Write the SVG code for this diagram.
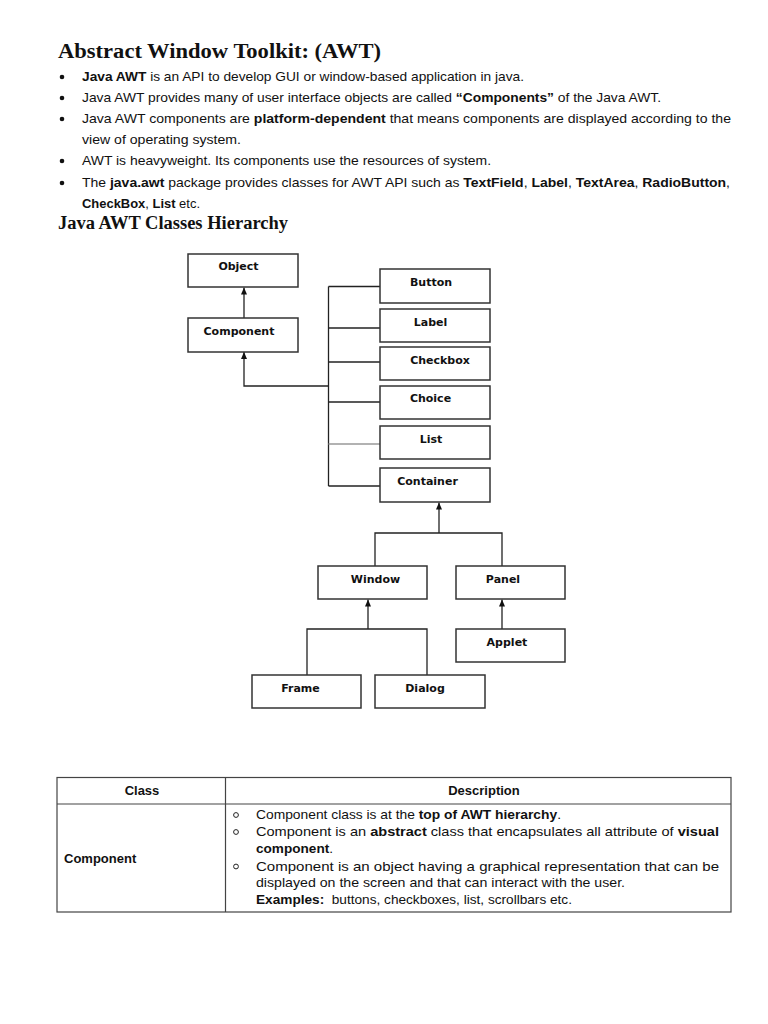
<svg xmlns="http://www.w3.org/2000/svg" width="768" height="1024" viewBox="0 0 768 1024">
<defs>
<style>
.t{font-family:"Liberation Sans",Arial,sans-serif;font-size:13px;fill:#111;}
.b{font-weight:bold;}
.h{font-family:"Liberation Serif","Times New Roman",serif;font-weight:bold;fill:#111;}
.box rect{fill:#fff;stroke:#333;stroke-width:1.5;}
.box text{font-family:"DejaVu Sans",Verdana,sans-serif;font-weight:bold;font-size:11px;text-anchor:middle;fill:#111;}
.conn{stroke:#222;stroke-width:1.3;fill:none;}
.gray{stroke:#999;}
.tbl{stroke:#444;stroke-width:1.2;fill:none;}
.bul{fill:#111;}
.obul{fill:none;stroke:#222;stroke-width:1;}
</style>
<marker id="arr" viewBox="0 0 7 6" refX="7" refY="3" markerWidth="7" markerHeight="6" markerUnits="userSpaceOnUse" orient="auto">
<path d="M0,0 L7,3 L0,6 z" fill="#111"/>
</marker>
</defs>
<rect width="768" height="1024" fill="#fff"/>

<text class="h" x="58" y="58" font-size="20.5" textLength="323" lengthAdjust="spacingAndGlyphs">Abstract Window Toolkit: (AWT)</text>

<g id="bullets">
<circle class="bul" cx="62" cy="77" r="2.3"/>
<circle class="bul" cx="62" cy="98" r="2.3"/>
<circle class="bul" cx="62" cy="119" r="2.3"/>
<circle class="bul" cx="62" cy="161" r="2.3"/>
<circle class="bul" cx="62" cy="183" r="2.3"/>
<text class="t" x="82" y="81" textLength="442" lengthAdjust="spacingAndGlyphs"><tspan class="b">Java AWT</tspan> is an API to develop GUI or window-based application in java.</text>
<text class="t" x="82" y="102" textLength="579" lengthAdjust="spacingAndGlyphs">Java AWT provides many of user interface objects are called <tspan class="b">“Components”</tspan> of the Java AWT.</text>
<text class="t" x="82" y="123" textLength="649" lengthAdjust="spacingAndGlyphs">Java AWT components are <tspan class="b">platform-dependent</tspan> that means components are displayed according to the</text>
<text class="t" x="82" y="144" textLength="159" lengthAdjust="spacingAndGlyphs">view of operating system.</text>
<text class="t" x="82" y="165" textLength="409" lengthAdjust="spacingAndGlyphs">AWT is heavyweight. Its components use the resources of system.</text>
<text class="t" x="82" y="187" textLength="648" lengthAdjust="spacingAndGlyphs">The <tspan class="b">java.awt</tspan> package provides classes for AWT API such as <tspan class="b">TextField</tspan>, <tspan class="b">Label</tspan>, <tspan class="b">TextArea</tspan>, <tspan class="b">RadioButton</tspan>,</text>
<text class="t" x="82" y="208" textLength="118" lengthAdjust="spacingAndGlyphs"><tspan class="b">CheckBox</tspan>, <tspan class="b">List</tspan> etc.</text>
</g>

<text class="h" x="58" y="229" font-size="18" textLength="230" lengthAdjust="spacingAndGlyphs">Java AWT Classes Hierarchy</text>

<g id="connectors">
<line class="conn" x1="244" y1="318" x2="244" y2="287.5" marker-end="url(#arr)"/>
<polyline class="conn" points="328.5,386 244,386 244,352" marker-end="url(#arr)"/>
<line class="conn" x1="328.5" y1="286.5" x2="328.5" y2="486"/>
<line class="conn" x1="328.5" y1="286.5" x2="380" y2="286.5"/>
<line class="conn" x1="328.5" y1="328" x2="380" y2="328"/>
<line class="conn" x1="328.5" y1="362" x2="380" y2="362"/>
<line class="conn" x1="328.5" y1="402" x2="380" y2="402"/>
<line class="conn gray" x1="328.5" y1="444" x2="380" y2="444"/>
<line class="conn" x1="328.5" y1="486" x2="380" y2="486"/>
<line class="conn" x1="439" y1="533" x2="439" y2="502.5" marker-end="url(#arr)"/>
<polyline class="conn" points="375,566 375,533 502,533 502,566"/>
<line class="conn" x1="368" y1="629" x2="368" y2="599.5" marker-end="url(#arr)"/>
<polyline class="conn" points="307,675 307,629 427,629 427,675"/>
<line class="conn" x1="502" y1="629" x2="502" y2="599.5" marker-end="url(#arr)"/>
</g>

<g id="n-object" class="box"><rect x="188" y="254" width="110" height="33"/><text x="238.5" y="270">Object</text></g>
<g id="n-component" class="box"><rect x="188" y="318" width="110" height="34"/><text x="239" y="335">Component</text></g>
<g id="n-button" class="box"><rect x="380" y="269" width="110" height="34"/><text x="431" y="286">Button</text></g>
<g id="n-label" class="box"><rect x="380" y="309" width="110" height="33"/><text x="430.5" y="326">Label</text></g>
<g id="n-checkbox" class="box"><rect x="380" y="347" width="110" height="33"/><text x="440" y="364">Checkbox</text></g>
<g id="n-choice" class="box"><rect x="380" y="386" width="110" height="33"/><text x="430.5" y="402">Choice</text></g>
<g id="n-list" class="box"><rect x="380" y="426" width="110" height="33"/><text x="431" y="443">List</text></g>
<g id="n-container" class="box"><rect x="380" y="468" width="110" height="34"/><text x="427.5" y="485">Container</text></g>
<g id="n-window" class="box"><rect x="318" y="566" width="109" height="33"/><text x="375.5" y="583">Window</text></g>
<g id="n-panel" class="box"><rect x="456" y="566" width="109" height="33"/><text x="503" y="583">Panel</text></g>
<g id="n-applet" class="box"><rect x="456" y="629" width="109" height="33"/><text x="507" y="646">Applet</text></g>
<g id="n-frame" class="box"><rect x="252" y="675" width="109" height="33"/><text x="300.5" y="692">Frame</text></g>
<g id="n-dialog" class="box"><rect x="375" y="675" width="110" height="33"/><text x="425" y="692">Dialog</text></g>

<g id="table">
<rect class="tbl" x="57" y="777.5" width="674" height="134.5"/>
<line class="tbl" x1="57" y1="804" x2="731" y2="804"/>
<line class="tbl" x1="225.5" y1="777.5" x2="225.5" y2="912"/>
<text class="t b" x="142" y="795" text-anchor="middle">Class</text>
<text class="t b" x="484" y="795" text-anchor="middle">Description</text>
<text class="t b" x="64" y="863">Component</text>
<circle class="obul" cx="236" cy="815" r="2.4"/>
<circle class="obul" cx="236" cy="832" r="2.4"/>
<circle class="obul" cx="236" cy="866.5" r="2.4"/>
<text class="t" x="256" y="819" textLength="305" lengthAdjust="spacingAndGlyphs">Component class is at the <tspan class="b">top of AWT hierarchy</tspan>.</text>
<text class="t" x="256" y="836" textLength="463" lengthAdjust="spacingAndGlyphs">Component is an <tspan class="b">abstract</tspan> class that encapsulates all attribute of <tspan class="b">visual</tspan></text>
<text class="t" x="256" y="853" textLength="77" lengthAdjust="spacingAndGlyphs"><tspan class="b">component</tspan>.</text>
<text class="t" x="256" y="870.5" textLength="463" lengthAdjust="spacingAndGlyphs">Component is an object having a graphical representation that can be</text>
<text class="t" x="256" y="887" textLength="369" lengthAdjust="spacingAndGlyphs">displayed on the screen and that can interact with the user.</text>
<text class="t" x="256" y="904" textLength="316" lengthAdjust="spacingAndGlyphs" xml:space="preserve"><tspan class="b">Examples:</tspan>  buttons, checkboxes, list, scrollbars etc.</text>
</g>
</svg>
